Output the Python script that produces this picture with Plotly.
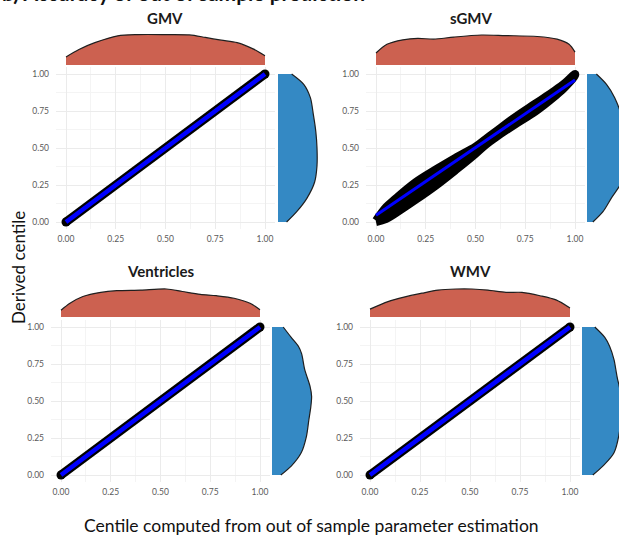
import plotly.graph_objects as go

# ---------------- data ----------------
panels = ["GMV", "sGMV", "Ventricles", "WMV"]

# identity-like panels: out-of-sample centile vs derived centile
gmv_centile = [0.0, 0.25, 0.5, 0.75, 1.0]
gmv_derived = [0.0, 0.25, 0.5, 0.75, 1.0]
ven_centile = [0.0, 0.25, 0.5, 0.75, 1.0]
ven_derived = [0.0, 0.25, 0.5, 0.75, 1.0]
wmv_centile = [0.0, 0.25, 0.5, 0.75, 1.0]
wmv_derived = [0.0, 0.25, 0.5, 0.75, 1.0]

# sGMV: spread of derived centiles (band) and fitted line
sgmv_centile = [0.0, 0.05, 0.1, 0.2, 0.3, 0.4, 0.5, 0.55, 0.6, 0.7, 0.8, 0.9, 0.95, 1.0]
sgmv_lower = [0.0, 0.02, 0.06, 0.15, 0.245, 0.35, 0.46, 0.52, 0.57, 0.66, 0.745, 0.85, 0.91, 0.99]
sgmv_upper = [0.01, 0.10, 0.16, 0.27, 0.355, 0.435, 0.51, 0.56, 0.61, 0.71, 0.80, 0.89, 0.94, 1.0]
sgmv_fit_x = [0.0, 1.0]
sgmv_fit_y = [0.045, 0.96]

# marginal densities (relative height), top = out-of-sample centile
gmv_top_x = [0.0, 0.065, 0.145, 0.26, 0.36, 0.5, 0.62, 0.70, 0.78, 0.86, 0.94, 1.0]
gmv_top_d = [0.26, 0.5, 0.72, 0.94, 0.98, 0.98, 0.97, 0.89, 0.80, 0.72, 0.52, 0.30]
sgmv_top_x = [0.0, 0.055, 0.135, 0.21, 0.29, 0.39, 0.53, 0.65, 0.81, 0.91, 0.97, 1.0]
sgmv_top_d = [0.40, 0.69, 0.84, 0.89, 0.86, 0.93, 1.0, 0.98, 0.95, 0.86, 0.69, 0.43]
ven_top_x = [0.0, 0.045, 0.11, 0.2, 0.28, 0.40, 0.53, 0.61, 0.70, 0.78, 0.87, 0.95, 1.0]
ven_top_d = [0.24, 0.49, 0.73, 0.88, 0.94, 0.96, 1.0, 0.91, 0.81, 0.76, 0.67, 0.49, 0.26]
wmv_top_x = [0.0, 0.09, 0.17, 0.26, 0.34, 0.43, 0.51, 0.59, 0.68, 0.76, 0.85, 0.93, 1.0]
wmv_top_d = [0.28, 0.55, 0.71, 0.85, 0.96, 1.0, 1.0, 0.96, 0.88, 0.88, 0.76, 0.61, 0.32]

# right marginal densities = derived centile
gmv_right_y = [0.0, 0.07, 0.16, 0.27, 0.38, 0.50, 0.61, 0.72, 0.84, 0.93, 1.0]
gmv_right_d = [0.22, 0.48, 0.74, 0.94, 1.0, 1.0, 0.97, 0.91, 0.83, 0.66, 0.35]
sgmv_right_y = [0.0, 0.07, 0.16, 0.3, 0.5, 0.7, 0.84, 0.93, 1.0]
sgmv_right_d = [0.15, 0.41, 0.62, 0.95, 1.0, 0.9, 0.71, 0.5, 0.24]
ven_right_y = [0.0, 0.06, 0.15, 0.26, 0.37, 0.46, 0.53, 0.60, 0.71, 0.82, 0.87, 0.93, 1.0]
ven_right_d = [0.22, 0.48, 0.73, 0.86, 0.92, 0.97, 0.99, 0.95, 0.82, 0.74, 0.66, 0.48, 0.28]
wmv_right_y = [0.0, 0.06, 0.15, 0.35, 0.5, 0.66, 0.69, 0.78, 0.87, 0.93, 1.0]
wmv_right_d = [0.27, 0.52, 0.80, 0.97, 1.0, 0.88, 0.86, 0.80, 0.69, 0.57, 0.32]

tick_vals = [0.0, 0.25, 0.5, 0.75, 1.0]
tick_text = ["0.00", "0.25", "0.50", "0.75", "1.00"]

# ---------------- layout helpers ----------------
W, H = 619, 538
RED = "#cc6150"
BLUE = "#3489c4"
OUTLINE = "#1f1f1f"
FONT = "Lato"
EXP = 0.05


def fx(px):
    return min(max(px / W, 0), 1)


def fy(py):
    return min(max(1 - py / H, 0), 1)


# pixel geometry per panel
geom = {
    "GMV": dict(x0=66, x1=265, y1=74, y0=222, tpk=34, tbase=65, rs=278, rw=39, tx=165, ty=18),
    "sGMV": dict(x0=376, x1=575, y1=74, y0=222, tpk=35, tbase=65, rs=587, rw=39, tx=471, ty=18),
    "Ventricles": dict(x0=61, x1=260, y1=327, y0=475, tpk=289, tbase=317, rs=272, rw=40, tx=161, ty=271),
    "WMV": dict(x0=370, x1=570, y1=327, y0=475, tpk=289, tbase=317, rs=582, rw=40, tx=470, ty=271),
}

fig = go.Figure()
layout = {}
annotations = []
axis_i = 0


def new_axes():
    global axis_i
    axis_i += 1
    return "" if axis_i == 1 else str(axis_i)


for name in panels:
    g = geom[name]
    sx = g["x1"] - g["x0"]
    sy = g["y0"] - g["y1"]
    xd = [fx(g["x0"] - EXP * sx), fx(g["x1"] + EXP * sx)]
    yd = [fy(g["y0"] + EXP * sy), fy(g["y1"] - EXP * sy)]
    rng = [-EXP, 1 + EXP]

    # ---- main scatter panel
    s = new_axes()
    xa, ya = "x" + s, "y" + s
    common = dict(range=rng, tickvals=tick_vals, ticktext=tick_text,
                  showgrid=True, gridcolor="#ebebeb", gridwidth=1, zeroline=False, showline=False,
                  ticks="", tickfont=dict(family=FONT, size=8.5, color="#5a5a5a"),
                  minor=dict(dtick=0.125, tick0=0, showgrid=True, gridcolor="#f4f4f4", gridwidth=0.6))
    layout["xaxis" + s] = dict(domain=xd, anchor=ya, ticklabelstandoff=3, **common)
    layout["yaxis" + s] = dict(domain=yd, anchor=xa, ticklabelstandoff=6, **common)

    if name == "sGMV":
        band_x = sgmv_centile + sgmv_centile[::-1]
        band_y = sgmv_upper + sgmv_lower[::-1]
        fig.add_trace(go.Scatter(x=band_x, y=band_y, mode="lines", fill="toself",
                                 fillcolor="black", line=dict(color="black", width=8, shape="spline"),
                                 xaxis=xa, yaxis=ya, hoverinfo="skip"))
        fig.add_trace(go.Scatter(x=sgmv_fit_x, y=sgmv_fit_y, mode="lines",
                                 line=dict(color="#0000ff", width=3),
                                 xaxis=xa, yaxis=ya, hoverinfo="skip"))
    else:
        cx, cy = {"GMV": (gmv_centile, gmv_derived),
                  "Ventricles": (ven_centile, ven_derived),
                  "WMV": (wmv_centile, wmv_derived)}[name]
        fig.add_trace(go.Scatter(x=cx, y=cy, mode="lines",
                                 line=dict(color="black", width=9),
                                 xaxis=xa, yaxis=ya, hoverinfo="skip"))
        fig.add_trace(go.Scatter(x=[cx[0], cx[-1]], y=[cy[0], cy[-1]], mode="markers",
                                 marker=dict(color="black", size=9),
                                 xaxis=xa, yaxis=ya, hoverinfo="skip"))
        fig.add_trace(go.Scatter(x=cx, y=cy, mode="lines",
                                 line=dict(color="#0000ff", width=4.5),
                                 xaxis=xa, yaxis=ya, hoverinfo="skip"))

    # ---- top marginal density
    tx_, td_ = {"GMV": (gmv_top_x, gmv_top_d), "sGMV": (sgmv_top_x, sgmv_top_d),
                "Ventricles": (ven_top_x, ven_top_d), "WMV": (wmv_top_x, wmv_top_d)}[name]
    s = new_axes()
    xa2, ya2 = "x" + s, "y" + s
    hpx = g["tbase"] - g["tpk"]
    layout["xaxis" + s] = dict(domain=xd, range=rng, anchor=ya2, visible=False)
    layout["yaxis" + s] = dict(domain=[fy(g["tbase"]), fy(g["tbase"] - hpx * 1.08)],
                               range=[0, 1.08], anchor=xa2, visible=False)
    fig.add_trace(go.Scatter(x=tx_, y=td_, mode="lines", fill="tozeroy", fillcolor=RED,
                             line=dict(color=OUTLINE, width=1.2, shape="spline", smoothing=0.8),
                             xaxis=xa2, yaxis=ya2, hoverinfo="skip"))

    # ---- right marginal density
    ry_, rd_ = {"GMV": (gmv_right_y, gmv_right_d), "sGMV": (sgmv_right_y, sgmv_right_d),
                "Ventricles": (ven_right_y, ven_right_d), "WMV": (wmv_right_y, wmv_right_d)}[name]
    s = new_axes()
    xa3, ya3 = "x" + s, "y" + s
    end = min(g["rs"] + g["rw"] * 1.08, W)
    layout["xaxis" + s] = dict(domain=[fx(g["rs"]), fx(end)],
                               range=[0, (end - g["rs"]) / g["rw"]], anchor=ya3, visible=False)
    layout["yaxis" + s] = dict(domain=yd, range=rng, anchor=xa3, visible=False)
    fig.add_trace(go.Scatter(x=rd_, y=ry_, mode="lines", fill="tozerox", fillcolor=BLUE,
                             line=dict(color=OUTLINE, width=1.2, shape="spline", smoothing=0.8),
                             xaxis=xa3, yaxis=ya3, hoverinfo="skip"))

    # ---- panel title
    annotations.append(dict(text="<b>%s</b>" % name, x=fx(g["tx"]), y=fy(g["ty"]),
                            xref="paper", yref="paper", xanchor="center", yanchor="middle",
                            showarrow=False, font=dict(family=FONT, size=15, color="#1a1a1a")))

# global titles
annotations.append(dict(text="<b>b) Accuracy of out of sample prediction</b>", x=0.0, y=1 + 7 / H,
                        xref="paper", yref="paper", xanchor="left", yanchor="middle",
                        showarrow=False, font=dict(family=FONT, size=21, color="#111111")))
annotations.append(dict(text="Derived centile", x=fx(18), y=fy(268), xref="paper", yref="paper",
                        xanchor="center", yanchor="middle", textangle=-90, showarrow=False,
                        font=dict(family=FONT, size=17, color="#111111")))
annotations.append(dict(text="Centile computed from out of sample parameter estimation",
                        x=fx(311), y=fy(525), xref="paper", yref="paper",
                        xanchor="center", yanchor="middle", showarrow=False,
                        font=dict(family=FONT, size=17.5, color="#111111")))

fig.update_layout(
    width=W, height=H, margin=dict(l=0, r=0, t=0, b=0),
    paper_bgcolor="white", plot_bgcolor="white", showlegend=False,
    annotations=annotations, **layout,
)

fig.write_html("out.html", config={"displayModeBar": False},
               post_script="document.body.style.margin='0';document.body.style.overflow='hidden';")
